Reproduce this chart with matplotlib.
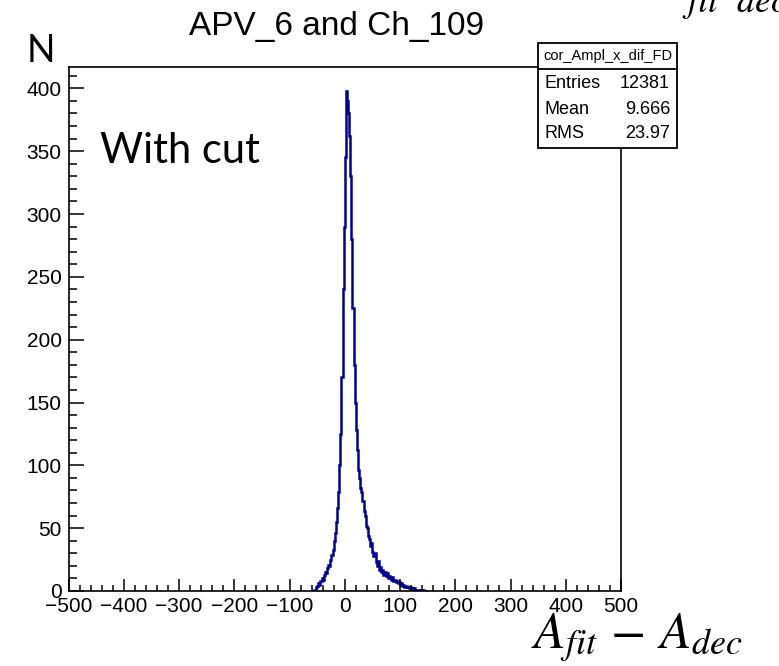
import numpy as np
import matplotlib
matplotlib.use("Agg")
import matplotlib.pyplot as plt
from matplotlib.patches import Rectangle
from matplotlib.lines import Line2D
from matplotlib.ticker import MultipleLocator

plt.rcParams['mathtext.fontset'] = 'stix'

# ---- data (histogram, bin width 2, starting at -60) ----
bin_start = -60
bin_width = 2
counts = [
    0, 0, 1, 1, 3, 4, 6, 5, 8, 10,          # -60 .. -42
    9, 13, 15, 14, 18, 21, 20, 25, 29, 33,  # -40 .. -22
    40, 46, 55, 66, 79, 100, 125, 170, 240, 290,  # -20 .. -2
    345, 398, 390, 380, 362, 330, 280, 225, 180, 150,  # 0 .. 18
    128, 112, 96, 90, 82, 79, 72, 64, 60, 52,  # 20 .. 38
    50, 44, 41, 36, 38, 31, 28, 30, 23, 20,  # 40 .. 58
    24, 17, 19, 15, 17, 13, 15, 12, 14, 10,  # 60 .. 78
    12, 11, 9, 11, 8, 9, 7, 8, 6, 7,         # 80 .. 98
    5, 6, 4, 5, 3, 4, 3, 3, 2, 3,            # 100 .. 118
    2, 2, 1, 2, 1, 1, 1, 0, 1, 1,            # 120 .. 138
    0, 1, 0, 0, 0,                           # 140 .. 148
]
title = "APV_6 and Ch_109"
stats_name = "cor_Ampl_x_dif_FD"
stats_labels = ["Entries", "Mean", "RMS"]
stats_values = ["12381", "9.666", "23.97"]
x_range = (-500, 500)
y_max = 417

edges = bin_start + bin_width * np.arange(len(counts) + 1)

W, H = 779, 666
fig = plt.figure(figsize=(W / 100, H / 100), dpi=100)
ax = fig.add_axes([68.5 / W, 1 - 591 / H, (621 - 68.5) / W, (591 - 67) / H])

ax.stairs(counts, edges, color='#000099', linewidth=1.8, baseline=None)

ax.set_xlim(*x_range)
ax.set_ylim(0, y_max)

for s in ['left', 'bottom', 'right', 'top']:
    ax.spines[s].set_linewidth(1.2)
    ax.spines[s].set_color('black')

ax.xaxis.set_major_locator(MultipleLocator(100))
ax.xaxis.set_minor_locator(MultipleLocator(20))
ax.yaxis.set_major_locator(MultipleLocator(50))
ax.yaxis.set_minor_locator(MultipleLocator(10))
ax.tick_params(axis='x', which='major', direction='in', length=9, width=1.1, pad=4,
               labelsize=15, top=False)
ax.tick_params(axis='x', which='minor', direction='in', length=4.5, width=1.1, top=False)
ax.tick_params(axis='y', which='major', direction='in', length=11, width=1.1, pad=5,
               labelsize=15, right=False)
ax.tick_params(axis='y', which='minor', direction='in', length=5.5, width=1.1, right=False)
for lab in ax.get_xticklabels() + ax.get_yticklabels():
    lab.set_fontfamily('Liberation Sans')

# title and labels
fig.text(337 / W, 1 - 35 / H, title, ha='center', va='baseline', fontsize=24,
         family='Liberation Sans')
fig.text(27 / W, 1 - 62 / H, "N", ha='left', va='baseline', fontsize=27, family='Lato')
fig.text(100 / W, 1 - 163 / H, "With cut", ha='left', va='baseline', fontsize=30, family='Lato')
fig.text(531 / W, 1 - 648 / H, r'$A_{fit}\,-\,A_{dec}$', ha='left', va='baseline', fontsize=37)
# cut-off text at top right
fig.text(682 / W, 1 - 12 / H, r'$\mathit{fit}$', ha='left', va='baseline', fontsize=26)
fig.text(736 / W, 1 - 12 / H, r'$\mathit{dec}$', ha='left', va='baseline', fontsize=26)

# stats box
bx0, bx1 = 538 / W, 677 / W
by_top, by_bot = 1 - 43 / H, 1 - 148 / H
sep = 1 - 69 / H
fig.patches.append(Rectangle((bx0, by_bot), bx1 - bx0, by_top - by_bot, transform=fig.transFigure,
                             facecolor='white', edgecolor='black', linewidth=1.3, zorder=5))
fig.lines.append(Line2D([bx0, bx1], [sep, sep], transform=fig.transFigure, color='black',
                        linewidth=1.3, zorder=6))
fig.text((bx0 + bx1) / 2, 1 - 56 / H, stats_name, ha='center', va='center', fontsize=10.5,
         family='Liberation Sans', zorder=7)
row_y = [83, 109, 134]
for lab, val, yy in zip(stats_labels, stats_values, row_y):
    fig.text(544 / W, 1 - yy / H, lab, ha='left', va='center', fontsize=13,
             family='Liberation Sans', zorder=7)
    fig.text(670 / W, 1 - yy / H, val, ha='right', va='center', fontsize=13,
             family='Liberation Sans', zorder=7)

fig.savefig('out.png', dpi=100)
